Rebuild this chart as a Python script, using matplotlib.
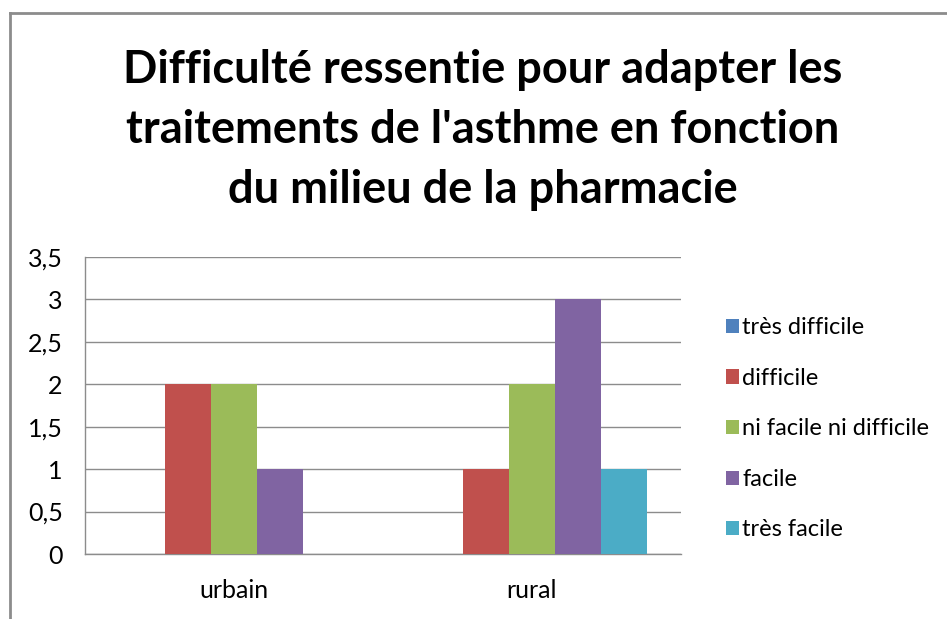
import matplotlib
matplotlib.use("Agg")
import matplotlib.pyplot as plt
from matplotlib.lines import Line2D
import numpy as np

categories = ["urbain", "rural"]
series_names = ["très difficile", "difficile", "ni facile ni difficile", "facile", "très facile"]
very_difficult = [0, 0]
difficult = [2, 1]
neutral = [2, 2]
easy = [1, 3]
very_easy = [0, 1]
series_values = [very_difficult, difficult, neutral, easy, very_easy]
colors = ["#4F81BD", "#C0504D", "#9BBB59", "#8064A2", "#4BACC6"]
yticks = [0, 0.5, 1, 1.5, 2, 2.5, 3, 3.5]
ytick_labels = ["0", "0,5", "1", "1,5", "2", "2,5", "3", "3,5"]
title_lines = ["Difficulté ressentie pour adapter les",
               "traitements de l'asthme en fonction",
               "du milieu de la pharmacie"]

plt.rcParams['font.family'] = ['Lato', 'DejaVu Sans']

W, H = 947, 619
fig = plt.figure(figsize=(W / 100, H / 100), dpi=100)
ax = fig.add_axes([85 / W, (H - 554) / H, (681 - 85) / W, (554 - 257) / H])

x = np.arange(len(categories))
bw = 0.155
for i, (name, vals, c) in enumerate(zip(series_names, series_values, colors)):
    ax.bar(x + (i - 2) * bw, vals, width=bw, color=c, label=name, linewidth=0, zorder=3)

ax.set_xlim(-0.5, 1.5)
ax.set_ylim(0, 3.5)
ax.set_yticks(yticks)
ax.set_yticklabels(ytick_labels)
ax.set_xticks(x)
ax.set_xticklabels(categories)
ax.grid(axis='y', color='#8C8C8C', linewidth=1, zorder=0)
for s in ['top', 'right']:
    ax.spines[s].set_visible(False)
for s in ['left', 'bottom']:
    ax.spines[s].set_color('#8C8C8C')
    ax.spines[s].set_linewidth(1)
ax.tick_params(axis='both', length=0, labelsize=18, colors='#000000')
ax.tick_params(axis='y', pad=16)
ax.tick_params(axis='x', pad=18)

baselines = [83, 143, 203]
for line, yb in zip(title_lines, baselines):
    fig.text(483 / W, 1 - yb / H, line, ha='center', va='baseline', fontsize=32.5,
             fontweight='bold', transform=fig.transFigure)

handles, labels = ax.get_legend_handles_labels()
fig.legend(handles, labels, loc='upper left', bbox_to_anchor=(717 / W, 1 - 308 / H),
           frameon=False, fontsize=17, handlelength=0.55, handleheight=0.55,
           handletextpad=0.12, labelspacing=1.25, borderaxespad=0)

fig.add_artist(Line2D([9.5 / W, 1], [1 - 12.5 / H, 1 - 12.5 / H], color='#8C8C8C', linewidth=2,
                      transform=fig.transFigure))
fig.add_artist(Line2D([9.5 / W, 9.5 / W], [0, 1 - 12.5 / H], color='#8C8C8C', linewidth=2,
                      transform=fig.transFigure))

fig.savefig("out.png", dpi=100, facecolor='white')
